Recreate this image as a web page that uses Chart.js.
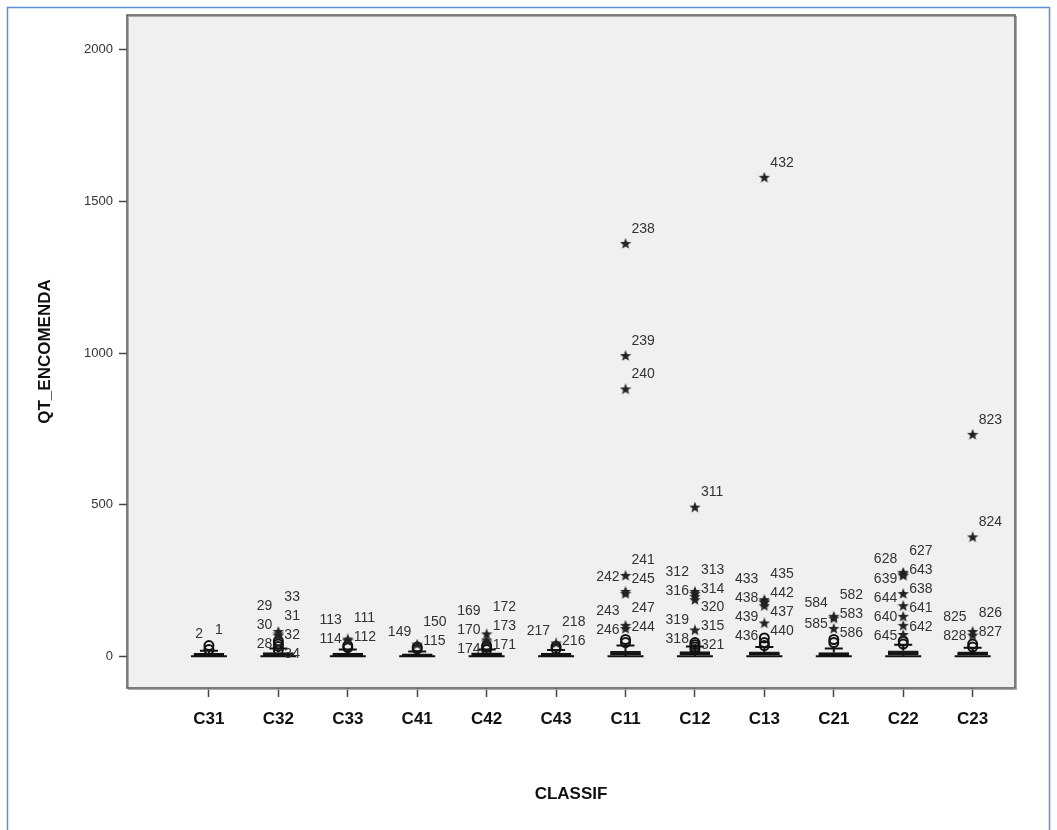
<!DOCTYPE html>
<html>
<head>
<meta charset="utf-8">
<script src="https://cdn.jsdelivr.net/npm/chart.js@4/dist/chart.umd.min.js"></script>
<style>
  body { margin: 0; background: #fff; }
  #wrap { width: 1057px; height: 830px; }
</style>
</head>
<body>
<div id="wrap"><canvas id="boxplot" width="1057" height="830"></canvas></div>
<script>
// categorias (CLASSIF)
const categories = ['C31', 'C32', 'C33', 'C41', 'C42', 'C43', 'C11', 'C12', 'C13', 'C21', 'C22', 'C23'];

// estatisticas das caixas (QT_ENCOMENDA)
const whiskerLow  = [0, 0, 0, 0, 0, 0, 0, 0, 0, 0, 0, 0];
const boxQ1       = [2, 3, 2, 2, 3, 2, 4, 4, 3, 3, 4, 3];
const boxMedian   = [5, 6, 5, 4, 6, 5, 8, 8, 7, 6, 9, 7];
const boxQ3       = [9, 12, 10, 8, 11, 10, 16, 15, 14, 12, 18, 14];
const whiskerHigh = [18, 25, 22, 15, 22, 20, 35, 32, 30, 25, 38, 28];

// outliers: categoria, caso, valor, tipo (o = moderado, * = extremo)
const outlierCategory = [
  'C31', 'C31',
  'C32', 'C32', 'C32', 'C32', 'C32', 'C32', 'C32',
  'C33', 'C33', 'C33', 'C33',
  'C41', 'C41', 'C41',
  'C42', 'C42', 'C42', 'C42', 'C42', 'C42',
  'C43', 'C43', 'C43',
  'C11', 'C11', 'C11', 'C11', 'C11', 'C11', 'C11', 'C11', 'C11', 'C11',
  'C12', 'C12', 'C12', 'C12', 'C12', 'C12', 'C12', 'C12', 'C12', 'C12',
  'C13', 'C13', 'C13', 'C13', 'C13', 'C13', 'C13', 'C13', 'C13',
  'C21', 'C21', 'C21', 'C21', 'C21',
  'C22', 'C22', 'C22', 'C22', 'C22', 'C22', 'C22', 'C22', 'C22', 'C22',
  'C23', 'C23', 'C23', 'C23', 'C23', 'C23'
];
const outlierCase = [
  '1', '2',
  '33', '29', '31', '30', '32', '28', '34',
  '111', '113', '112', '114',
  '150', '149', '115',
  '172', '169', '173', '170', '171', '174',
  '218', '217', '216',
  '238', '239', '240', '241', '242', '245', '247', '243', '244', '246',
  '311', '313', '312', '314', '316', '320', '319', '315', '318', '321',
  '432', '435', '433', '442', '438', '437', '439', '440', '436',
  '582', '584', '583', '585', '586',
  '627', '628', '643', '639', '638', '644', '641', '640', '642', '645',
  '823', '824', '826', '825', '827', '828'
];
const outlierValue = [
  35, 22,
  80, 72, 66, 50, 40, 32, 20,
  55, 50, 35, 28,
  38, 30, 24,
  72, 52, 45, 35, 30, 22,
  42, 32, 24,
  1360, 990, 880, 265, 212, 205, 100, 90, 55, 45,
  490, 212, 205, 196, 185, 85, 45, 38, 30, 22,
  1578, 185, 180, 176, 165, 108, 60, 45, 35,
  130, 124, 90, 55, 45,
  275, 270, 265, 205, 165, 130, 100, 70, 50, 40,
  730, 392, 80, 68, 40, 30
];
const outlierKind = [
  'o', 'o',
  '*', '*', '*', 'o', 'o', 'o', 'o',
  '*', '*', 'o', 'o',
  '*', 'o', 'o',
  '*', '*', '*', 'o', 'o', 'o',
  '*', 'o', 'o',
  '*', '*', '*', '*', '*', '*', '*', '*', 'o', 'o',
  '*', '*', '*', '*', '*', '*', 'o', 'o', 'o', 'o',
  '*', '*', '*', '*', '*', '*', 'o', 'o', 'o',
  '*', '*', '*', 'o', 'o',
  '*', '*', '*', '*', '*', '*', '*', '*', 'o', 'o',
  '*', '*', '*', '*', 'o', 'o'
];

const yTicks = [0, 500, 1000, 1500, 2000];

// estrela preenchida de 5 pontas para os extremos
function makeStar(size, color) {
  const c = document.createElement('canvas');
  c.width = size; c.height = size;
  const g = c.getContext('2d');
  const cx = size / 2, cy = size / 2, R = size / 2, r = R * 0.42;
  g.beginPath();
  for (let i = 0; i < 10; i++) {
    const rad = i % 2 === 0 ? R : r;
    const a = -Math.PI / 2 + i * Math.PI / 5;
    const px = cx + rad * Math.cos(a), py = cy + rad * Math.sin(a);
    if (i === 0) g.moveTo(px, py); else g.lineTo(px, py);
  }
  g.closePath();
  g.fillStyle = color;
  g.fill();
  return c;
}
const starImg = makeStar(12, '#222');

const starPoints = [], circlePoints = [];
outlierValue.forEach((v, i) => {
  const p = { x: categories.indexOf(outlierCategory[i]), y: v, label: outlierCase[i] };
  (outlierKind[i] === '*' ? starPoints : circlePoints).push(p);
});

const boxData = categories.map((c, i) => ({ x: i, y: [boxQ1[i], boxQ3[i]] }));

const FONT = '"Liberation Sans", Arial, sans-serif';

// fundo, moldura e borda azul
const framePlugin = {
  id: 'frame',
  beforeDraw(chart) {
    const { ctx, chartArea: a } = chart;
    ctx.save();
    ctx.fillStyle = '#fff';
    ctx.fillRect(0, 0, chart.width, chart.height);
    ctx.strokeStyle = '#5b8fd6';
    ctx.lineWidth = 1.5;
    ctx.strokeRect(7.5, 7.5, 1042, 830);
    ctx.fillStyle = '#f0f0f0';
    ctx.fillRect(a.left, a.top, a.right - a.left, a.bottom - a.top);
    ctx.restore();
  },
  afterDraw(chart) {
    const { ctx, chartArea: a } = chart;
    ctx.save();
    ctx.strokeStyle = '#aaa';
    ctx.lineWidth = 1;
    ctx.strokeRect(a.left + 1.5, a.top + 1.5, a.right - a.left, a.bottom - a.top);
    ctx.strokeStyle = '#555';
    ctx.lineWidth = 1.5;
    ctx.strokeRect(a.left, a.top, a.right - a.left, a.bottom - a.top);
    ctx.restore();
  }
};

// bigodes e mediana
const whiskerPlugin = {
  id: 'whiskers',
  afterDatasetsDraw(chart) {
    const { ctx, scales: { x, y } } = chart;
    ctx.save();
    ctx.strokeStyle = '#111';
    ctx.lineWidth = 2;
    categories.forEach((c, i) => {
      const px = x.getPixelForValue(i);
      const hw = 15;
      const yl = y.getPixelForValue(whiskerLow[i]);
      const yh = y.getPixelForValue(whiskerHigh[i]);
      const yq1 = y.getPixelForValue(boxQ1[i]);
      const yq3 = y.getPixelForValue(boxQ3[i]);
      const ym = y.getPixelForValue(boxMedian[i]);
      ctx.beginPath();
      ctx.moveTo(px, yh); ctx.lineTo(px, yq3);
      ctx.moveTo(px, yq1); ctx.lineTo(px, yl);
      ctx.moveTo(px - hw * 0.6, yh); ctx.lineTo(px + hw * 0.6, yh);
      ctx.moveTo(px - hw - 3, yl); ctx.lineTo(px + hw + 3, yl);
      ctx.moveTo(px - hw, ym); ctx.lineTo(px + hw, ym);
      ctx.stroke();
    });
    ctx.restore();
  }
};

// rotulos dos casos, espalhados para nao se sobreporem
const caseLabelPlugin = {
  id: 'caseLabels',
  afterDatasetsDraw(chart) {
    const { ctx, scales: { x, y } } = chart;
    const gap = 19;
    ctx.save();
    ctx.font = '14px ' + FONT;
    ctx.fillStyle = '#333';
    ctx.textBaseline = 'middle';
    categories.forEach((c, ci) => {
      const idx = outlierValue.map((v, i) => i).filter(i => outlierCategory[i] === c)
        .sort((a, b) => outlierValue[b] - outlierValue[a]);
      const sides = [[], []];
      let side = 1, prevY = -1e9;
      idx.forEach(i => {
        const py = y.getPixelForValue(outlierValue[i]);
        side = (py - prevY > 30) ? 0 : 1 - side;
        prevY = py;
        sides[side].push(i);
      });
      sides.forEach((list, s) => {
        const want = list.map(i => y.getPixelForValue(outlierValue[i]) - 15);
        const pos = want.slice();
        for (let k = 1; k < pos.length; k++) {
          if (pos[k] < pos[k - 1] + gap) pos[k] = pos[k - 1] + gap;
        }
        // centrar grupos vizinhos
        let k = 0;
        while (k < pos.length) {
          let j = k;
          while (j + 1 < pos.length && pos[j + 1] - pos[j] <= gap + 0.01 && pos[j + 1] > want[j + 1]) j++;
          if (j > k) {
            let d = 0;
            for (let m = k; m <= j; m++) d += pos[m] - want[m];
            d /= (j - k + 1);
            for (let m = k; m <= j; m++) pos[m] -= d;
          }
          k = j + 1;
        }
        const px = x.getPixelForValue(ci);
        list.forEach((i, m) => {
          ctx.textAlign = s === 0 ? 'left' : 'right';
          ctx.fillText(outlierCase[i], s === 0 ? px + 6 : px - 6, pos[m]);
        });
      });
    });
    ctx.restore();
  }
};

new Chart(document.getElementById('boxplot'), {
  type: 'bar',
  data: {
    datasets: [
      {
        type: 'bar',
        data: boxData,
        backgroundColor: '#222',
        borderColor: '#111',
        borderWidth: 1,
        barThickness: 30,
        order: 3
      },
      {
        type: 'scatter',
        data: starPoints,
        pointStyle: starImg,
        order: 1
      },
      {
        type: 'scatter',
        data: circlePoints,
        pointStyle: 'circle',
        pointRadius: 4.5,
        backgroundColor: 'rgba(0,0,0,0)',
        borderColor: '#111',
        borderWidth: 2,
        order: 2
      }
    ]
  },
  options: {
    responsive: false,
    animation: false,
    layout: { padding: { left: 35, right: 42, top: 15, bottom: 25 } },
    plugins: {
      legend: { display: false },
      tooltip: { enabled: false }
    },
    scales: {
      x: {
        type: 'linear',
        offset: false,
        min: -1.18,
        max: 11.61,
        afterBuildTicks(scale) {
          scale.ticks = categories.map((c, i) => ({ value: i }));
        },
        afterFit(scale) { scale.height = 805 - 688; },
        ticks: {
          callback: (v) => categories[v],
          autoSkip: false,
          maxRotation: 0,
          padding: 12,
          color: '#111',
          font: { family: FONT, size: 17, weight: 'bold' }
        },
        grid: { offset: false, drawOnChartArea: false, drawTicks: true, tickLength: 9, color: '#444', tickWidth: 1.5 },
        border: { display: false },
        title: {
          display: true,
          text: 'CLASSIF',
          color: '#111',
          padding: 0,
          font: { family: FONT, size: 17, weight: 'bold' }
        }
      },
      y: {
        type: 'linear',
        min: -105,
        max: 2115,
        afterBuildTicks(scale) {
          scale.ticks = yTicks.map(v => ({ value: v }));
        },
        afterFit(scale) { scale.width = 127 - 35; },
        ticks: {
          callback: (v) => String(v),
          color: '#333',
          padding: 6,
          font: { family: FONT, size: 13 }
        },
        grid: { drawOnChartArea: false, drawTicks: true, tickLength: 8, color: '#444', tickWidth: 1.5 },
        border: { display: false },
        title: {
          display: true,
          text: 'QT_ENCOMENDA',
          color: '#111',
          padding: 0,
          font: { family: FONT, size: 17, weight: 'bold' }
        }
      }
    }
  },
  plugins: [framePlugin, whiskerPlugin, caseLabelPlugin]
});
</script>
</body>
</html>
